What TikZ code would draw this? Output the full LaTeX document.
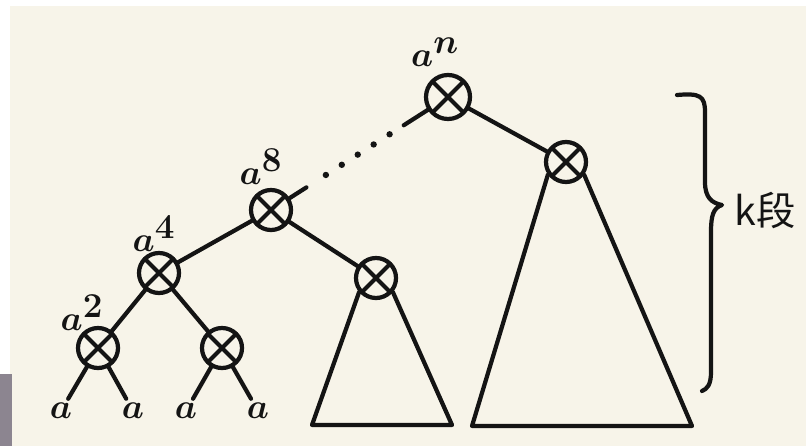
\documentclass[tikz,border=0pt]{standalone}
\usepackage{fontspec}
\newfontfamily\cjk{Noto Sans CJK SC}
\usetikzlibrary{calc,positioning}
\definecolor{paper}{HTML}{F7F4E9}
\definecolor{pen}{HTML}{141414}
\definecolor{photo}{HTML}{8C8590}
\tikzset{
  pen line/.style={draw=pen,line width=3pt,line cap=round,line join=round},
  opnode/.style={circle,pen line,minimum size=1cm,inner sep=0pt,
    path picture={\draw[pen,line width=3pt]
      (path picture bounding box.north west) -- (path picture bounding box.south east)
      (path picture bounding box.north east) -- (path picture bounding box.south west);}},
  leaf/.style={text=pen,inner sep=3pt,font=\fontsize{34}{34}\selectfont\boldmath},
  pow/.style={text=pen,inner sep=0pt,font=\fontsize{34}{34}\selectfont\boldmath},
}

\begin{document}
\begin{tikzpicture}[x=0.025cm,y=-0.025cm]
\useasboundingbox (0,0) rectangle (806,446);
% --- the sheet
\fill[white] (0,0) rectangle (806,446);
\fill[paper] (10,6) rectangle (806,446);
\fill[photo] (0,374) rectangle (12,446);
% --- the products
\node[opnode,minimum size=1.1cm] (root) at (448,97) {};
\node[opnode] (rc) at (566,162) {};
\node[opnode] (a8) at (271,210) {};
\node[opnode] (mc) at (376,278) {};
\node[opnode] (a4) at (159,273) {};
\node[opnode] (a2) at (98,348) {};
\node[opnode] (a4r) at (222,348) {};
% --- powers
\node[pow] (pn) at (435,52) {$a^n$};
\node[pow] (p8) at (261,167) {$a^8$};
\node[pow] (p4) at (154,234) {$a^4$};
\node[pow] (p2) at (82,313) {$a^2$};
% --- leaves
\foreach \x/\n in {61/1,133/2,186/3,258/4} {\node[leaf] (l\n) at (\x,411) {$a$};}
% --- edges
\draw[pen line] (root) -- (rc);
\draw[pen line] (a8) -- (mc);
\draw[pen line] (a8) -- (a4);
\draw[pen line] (a4) -- (a2);
\draw[pen line] (a4) -- (a4r);
\draw[pen line] (a2) -- (l1);
\draw[pen line] (a2) -- (l2);
\draw[pen line] (a4r) -- (l3);
\draw[pen line] (a4r) -- (l4);
% --- the gap
\draw[pen line] (root) -- ($(root)!0.25!(a8)$);
\draw[pen line] ($(root)!0.80!(a8)$) -- (a8);
\foreach \t in {0.33,0.42,0.51,0.60,0.69} {\fill[pen] ($(root)!\t!(a8)$) circle (3.2);}
% --- subtrees
\coordinate (mbl) at (312,425);
\coordinate (mbr) at (452,425);
\draw[pen line] (mc.-140) -- (mbl) -- (mbr) -- (mc.-40);
\coordinate (rbl) at (472,426);
\coordinate (rbr) at (692,426);
\draw[pen line] (rc.-145) -- (rbl) -- (rbr) -- (rc.-35);
% --- brace
\coordinate (btop) at (677,95);
\coordinate (btip) at (722,205);
\coordinate (bbot) at (702,391);
\draw[pen line] (btop) .. controls (700,93) and (705,96) .. (705,112) -- (705,182)
  .. controls (705,198) and (712,203) .. (btip)
  .. controls (713,208) and (711,216) .. (711,232) -- (711,372)
  .. controls (711,385) and (707,389) .. (bbot);
\node[text=pen,font=\cjk\fontsize{28}{28}\selectfont,anchor=west] (kseg) at (730,210) {k段};
\end{tikzpicture}
\end{document}
